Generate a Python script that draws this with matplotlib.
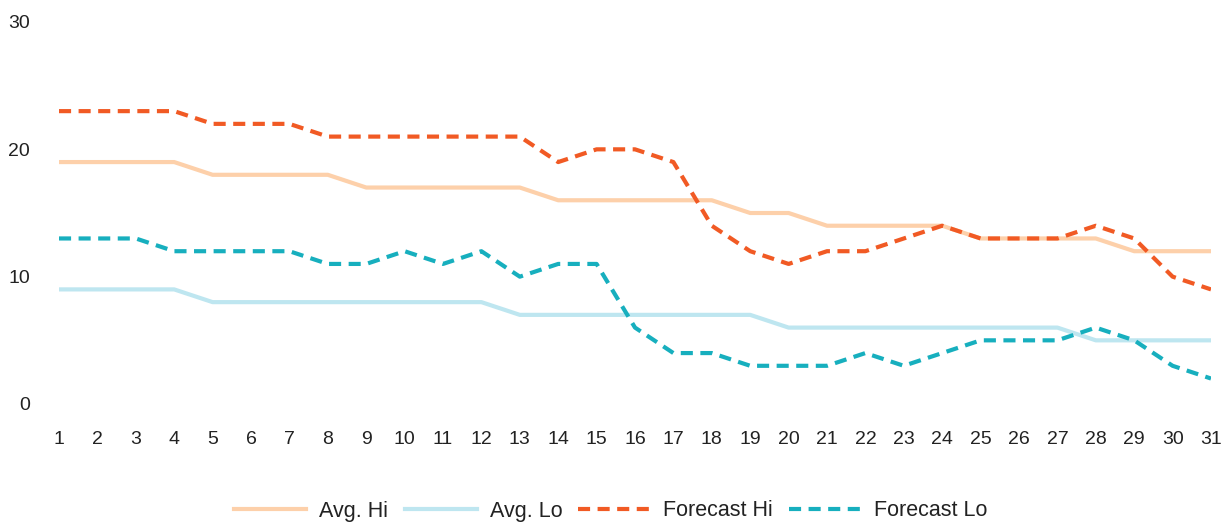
import matplotlib
matplotlib.use("Agg")
import matplotlib.pyplot as plt

days = list(range(1, 32))
avg_hi = [19, 19, 19, 19, 18, 18, 18, 18, 17, 17, 17, 17, 17, 16, 16, 16, 16, 16,
          15, 15, 14, 14, 14, 14, 13, 13, 13, 13, 12, 12, 12]
avg_lo = [9, 9, 9, 9, 8, 8, 8, 8, 8, 8, 8, 8, 7, 7, 7, 7, 7, 7, 7,
          6, 6, 6, 6, 6, 6, 6, 6, 5, 5, 5, 5]
fc_hi = [23, 23, 23, 23, 22, 22, 22, 21, 21, 21, 21, 21, 21, 19, 20, 20, 19, 14,
         12, 11, 12, 12, 13, 14, 13, 13, 13, 14, 13, 10, 9]
fc_lo = [13, 13, 13, 12, 12, 12, 12, 11, 11, 12, 11, 12, 10, 11, 11, 6, 4, 4,
         3, 3, 3, 4, 3, 4, 5, 5, 5, 6, 5, 3, 2]
y_ticks = [0, 10, 20, 30]

plt.rcParams['font.family'] = ['Liberation Sans', 'DejaVu Sans']

fig = plt.figure(figsize=(12.29, 5.22), dpi=100)
ax = fig.add_axes([59/1229, 1 - 404/522, (1211 - 59)/1229, (404 - 22)/522])

lw = 3
ax.plot(days, avg_hi, color='#FDD0AA', lw=lw, label='Avg. Hi', solid_joinstyle='round')
ax.plot(days, avg_lo, color='#BEE6F0', lw=lw, label='Avg. Lo', solid_joinstyle='round')
ax.plot(days, fc_hi, color='#F15A24', lw=lw, ls=(0, (2.9, 1.8)), label='Forecast Hi')
ax.plot(days, fc_lo, color='#17AFBE', lw=lw, ls=(0, (2.9, 1.8)), label='Forecast Lo')

ax.set_xlim(1, 31)
ax.set_ylim(0, 30)
ax.set_xticks(days)
ax.set_yticks(y_ticks)
for s in ax.spines.values():
    s.set_visible(False)
ax.tick_params(axis='both', length=0, labelsize=14, colors='#222222')
ax.tick_params(axis='y', pad=21)
ax.tick_params(axis='x', pad=19.5)
for lab in ax.get_yticklabels():
    lab.set_horizontalalignment('right')

leg = fig.legend(loc='center', bbox_to_anchor=(611/1229, 1 - 511/522), ncol=4,
                 frameon=False, fontsize=15.5, handlelength=3.35, handletextpad=0.6,
                 columnspacing=0.75, labelcolor='#222222')

fig.savefig('out.png', dpi=100)
